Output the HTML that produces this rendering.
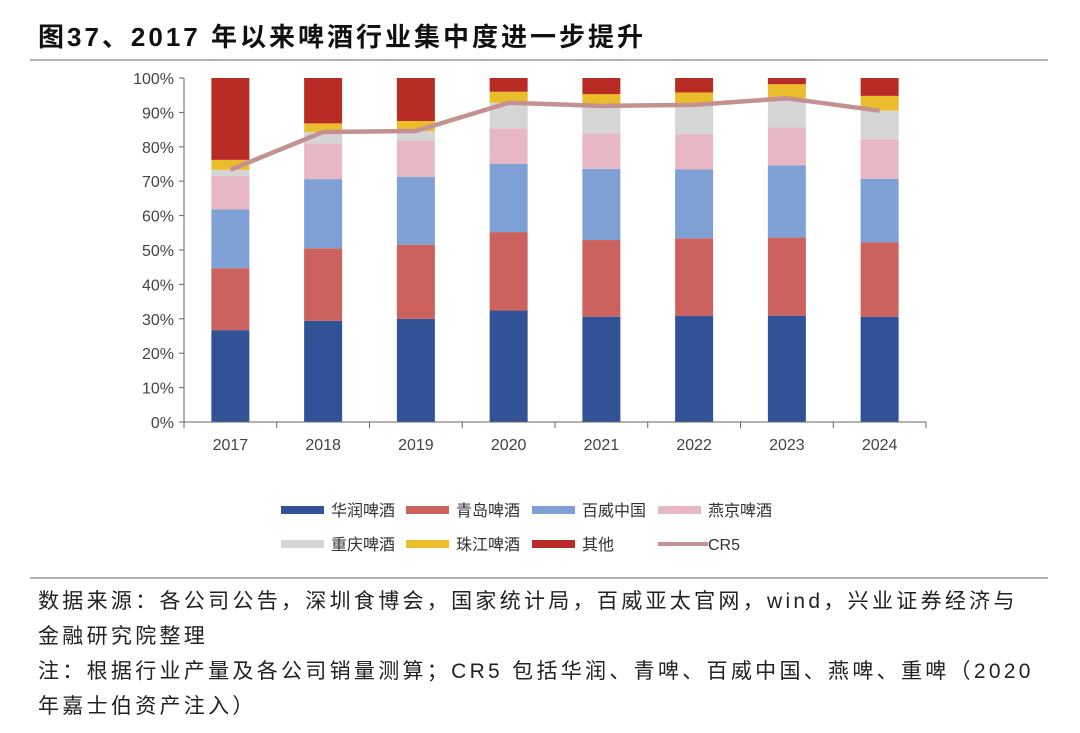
<!DOCTYPE html>
<html><head><meta charset="utf-8">
<style>
body{margin:0;background:#fff;width:1080px;height:733px;overflow:hidden;font-family:"Liberation Sans","Noto Sans CJK SC",sans-serif;}
svg{position:absolute;left:0;top:0;}
.note{position:absolute;left:38px;font-size:21px;letter-spacing:3.3px;color:#222;white-space:nowrap;}
</style></head><body>
<svg id="chart" width="1080" height="733">
<text x="38" y="46" font-size="26" font-weight="bold" letter-spacing="3" fill="#111" font-family="Liberation Sans, Noto Sans CJK SC, sans-serif">图37、2017 年以来啤酒行业集中度进一步提升</text>
<line x1="30" y1="60" x2="1048" y2="60" stroke="#999" stroke-width="1.5"/>
<line x1="30" y1="578" x2="1048" y2="578" stroke="#999" stroke-width="1.5"/>
<g id="plot"></g>
<g id="legend"></g>
</svg>
<div class="note" style="top:585px">数据来源：各公司公告，深圳食博会，国家统计局，百威亚太官网，wind，兴业证券经济与</div>
<div class="note" style="top:620px">金融研究院整理</div>
<div class="note" style="top:655px">注：根据行业产量及各公司销量测算；CR5 包括华润、青啤、百威中国、燕啤、重啤（2020</div>
<div class="note" style="top:690px">年嘉士伯资产注入）</div>
<script>
const categories=["2017","2018","2019","2020","2021","2022","2023","2024"];
const seriesNames=["华润啤酒","青岛啤酒","百威中国","燕京啤酒","重庆啤酒","珠江啤酒","其他"];
const huarun=[26.7,29.4,30.0,32.4,30.6,30.8,30.9,30.6];
const qingdao=[18.0,21.1,21.5,22.8,22.3,22.6,22.7,21.6];
const baiwei=[17.1,20.1,19.8,19.8,20.7,20.0,21.0,18.5];
const yanjing=[9.7,10.4,10.4,10.3,10.3,10.3,11.1,11.5];
const chongqing=[1.8,3.3,2.9,7.5,8.0,8.5,8.4,8.3];
const zhujiang=[2.9,2.5,2.9,3.2,3.4,3.6,4.1,4.3];
const other=[23.8,13.2,12.5,4.0,4.7,4.2,1.8,5.2];
const cr5=[73.3,84.3,84.6,92.8,91.9,92.2,94.1,90.5];
const yTicks=[0,10,20,30,40,50,60,70,80,90,100];
const colors=["#325297","#cb625e","#7ea0d4","#e8b7c4","#d5d5d5","#ebbd2a","#b92c25"];
const lineColor="#c49191";
const series=[huarun,qingdao,baiwei,yanjing,chongqing,zhujiang,other];
const NS="http://www.w3.org/2000/svg";
const X0=184,X1=926,Y0=422,Y1=78,BW=38;
const step=(X1-X0)/categories.length;
function xc(i){return X0+step*(i+0.5);}
function y(v){return Y0-(Y0-Y1)*v/100;}
const plot=document.getElementById('plot');
function mk(t,a,p){const e=document.createElementNS(NS,t);for(const k in a)e.setAttribute(k,a[k]);(p||plot).appendChild(e);return e;}
let ax=mk('line',{x1:X0,y1:Y0,x2:X0,y2:Y1,stroke:'#666'});


yTicks.forEach(t=>{
 let l=mk('line',{x1:X0-5,y1:y(t),x2:X0,y2:y(t),stroke:'#666'});
 
 
 let tx=mk('text',{x:X0-10,y:y(t)+6,'text-anchor':'end','font-size':16,fill:'#444'});
 tx.textContent=t+'%';
 
 
});
categories.forEach((c,i)=>{
 let base=0;
 series.forEach((s,k)=>{
  let r=mk('rect',{x:xc(i)-BW/2,y:y(base+s[i]),width:BW,height:y(base)-y(base+s[i]),fill:colors[k]});
  
  
  base+=s[i];
 });
 let tx=mk('text',{x:xc(i),y:Y0+28,'text-anchor':'middle','font-size':16,fill:'#444'});
 tx.textContent=c;
 
 
});
let xa=mk('line',{x1:X0,y1:Y0,x2:X1,y2:Y0,stroke:'#666'});


for(let i=0;i<=categories.length;i++){
 let l=mk('line',{x1:X0+step*i,y1:Y0,x2:X0+step*i,y2:Y0+6,stroke:'#666'});
 
 
}
let pl=mk('polyline',{points:cr5.map((v,i)=>xc(i)+','+y(v)).join(' '),fill:'none',stroke:lineColor,'stroke-width':4.5,'stroke-linejoin':'round'});


const lg=document.getElementById('legend');
const cols=[281,406,532,658];
seriesNames.forEach((n,k)=>{
 const lx=cols[k%4], ly=k<4?510:544;
 let r=mk('rect',{x:lx,y:ly-4,width:43,height:8,fill:colors[k]},lg);
 
 
 let t=mk('text',{x:lx+50,y:ly+6,'font-size':16,fill:'#333'},lg);
 t.textContent=n;
 
 
});
let cl=mk('line',{x1:658,y1:544,x2:708,y2:544,stroke:lineColor,'stroke-width':4},lg);


let ct=mk('text',{x:708,y:550,'font-size':16,fill:'#333'},lg);
ct.textContent='CR5';


</script>
</body></html>
